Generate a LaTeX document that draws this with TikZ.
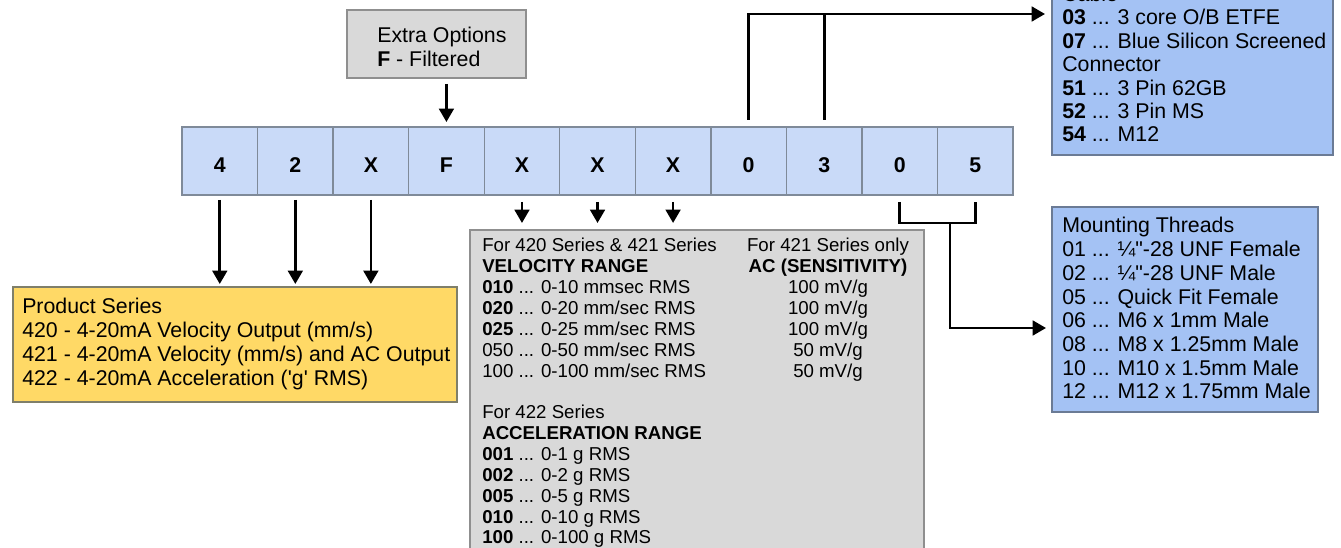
\documentclass[tikz,border=0pt]{standalone}
\usepackage{fontspec}
\setmainfont{Liberation Sans}[Ligatures=TeXOff]
\usetikzlibrary{arrows.meta}
\newcommand{\mydots}{...}
\definecolor{codefill}{HTML}{C9DAF8}
\definecolor{codeline}{HTML}{7F8A99}
\definecolor{bluefill}{HTML}{A4C2F4}
\definecolor{blueline}{HTML}{6B7B95}
\definecolor{grayfill}{HTML}{D9D9D9}
\definecolor{grayline}{HTML}{8F8F8F}
\definecolor{yellowfill}{HTML}{FFD966}
\definecolor{yellowline}{HTML}{7F7F6A}
\begin{document}
\begin{tikzpicture}[x=0.75pt,y=-0.75pt,
  codebox/.style={draw=codeline, fill=codefill, line width=1pt, minimum width=56.66pt, minimum height=51pt,
    inner sep=0pt, outer sep=0pt, font=\fontsize{16}{19}\selectfont\bfseries, text height=18pt, text depth=0pt},
  panel/.style={draw=#1line, fill=#1fill, line width=1pt, inner sep=0pt, outer sep=0pt},
  bigtxt/.style={anchor=base west, inner sep=0pt, font=\fontsize{16}{19}\selectfont},
  smalltxt/.style={anchor=base west, inner sep=0pt, font=\fontsize{14}{17}\selectfont},
  smallc/.style={anchor=base, inner sep=0pt, font=\fontsize{14}{17}\selectfont},
  conn/.style={line width=2pt},
  arr/.style={conn, -{Triangle[length=10pt,width=11pt]}}
]
\useasboundingbox (0,0) rectangle (1341,548);
\clip (0,0) rectangle (1341,548);

% code boxes
\foreach \t [count=\i] in {4,2,X,F,X,X,X,0,3,0,5}
  \node[codebox] (c\i) at ({182+75.55*(\i-0.5)},161) {\t};

% panels
\node[panel=gray, minimum width=134.25pt, minimum height=51pt] (ext) at (436.5,44) {};
\node[panel=blue, minimum width=210.75pt, minimum height=146.25pt] (cable) at (1192.5,57.5) {};
\node[panel=blue, minimum width=199.5pt, minimum height=153.75pt] (mount) at (1185,309.5) {};
\node[panel=yellow, minimum width=333pt, minimum height=86.25pt] (prod) at (235,344.5) {};
\node[panel=gray, minimum width=340.5pt, minimum height=277.5pt] (range) at (697,415) {};

% extra options text
\node[bigtxt] (ext1) at (377,43) {Extra Options};
\node[bigtxt] (ext2) at (377,67) {\textbf{F} - Filtered};

% cable / connector text
\foreach \t [count=\i] in {{Cable},{\textbf{03} \mydots{} 3 core O/B ETFE},{\textbf{07} \mydots{} Blue Silicon Screened},{Connector},{\textbf{51} \mydots{} 3 Pin 62GB},{\textbf{52} \mydots{} 3 Pin MS},{\textbf{54} \mydots{} M12}}
  \node[bigtxt] (cab\i) at (1062,{1.5+23.4*(\i-1)}) {\t};

% mounting threads text
\foreach \t [count=\i] in {{Mounting Threads},{01 \mydots{} ¼"-28 UNF Female},{02 \mydots{} ¼"-28 UNF Male},{05 \mydots{} Quick Fit Female},{06 \mydots{} M6 x 1mm Male},{08 \mydots{} M8 x 1.25mm Male},{10 \mydots{} M10 x 1.5mm Male},{12 \mydots{} M12 x 1.75mm Male}}
  \node[bigtxt] (mt\i) at (1062,{233+23.7*(\i-1)}) {\t};

% product series text
\foreach \t [count=\i] in {{Product Series},{420 - 4-20mA Velocity Output (mm/s)},{421 - 4-20mA Velocity (mm/s) and AC Output},{422 - 4-20mA Acceleration ('g' RMS)}}
  \node[bigtxt] (ps\i) at (22,{314+23.7*(\i-1)}) {\t};

% range text
\foreach \t [count=\i] in {{For 420 Series \& 421 Series},{\textbf{VELOCITY RANGE}},{\textbf{010} \mydots{} 0-10 mmsec RMS},{\textbf{020} \mydots{} 0-20 mm/sec RMS},{\textbf{025} \mydots{} 0-25 mm/sec RMS},{050 \mydots{} 0-50 mm/sec RMS},{100 \mydots{} 0-100 mm/sec RMS}}
  \node[smalltxt] (vr\i) at (482,{252+20.85*(\i-1)}) {\t};
\foreach \t [count=\i] in {{For 421 Series only},{\textbf{AC (SENSITIVITY)}},{100 mV/g},{100 mV/g},{100 mV/g},{50 mV/g},{50 mV/g}}
  \node[smallc] (ac\i) at (828,{252+20.85*(\i-1)}) {\t};
\foreach \t [count=\i] in {{For 422 Series},{\textbf{ACCELERATION RANGE}},{\textbf{001} \mydots{} 0-1 g RMS},{\textbf{002} \mydots{} 0-2 g RMS},{\textbf{005} \mydots{} 0-5 g RMS},{\textbf{010} \mydots{} 0-10 g RMS},{\textbf{100} \mydots{} 0-100 g RMS}}
  \node[smalltxt] (ar\i) at (482,{252+20.85*(\i+7)}) {\t};

% connectors
\draw[arr, shorten <=4.5pt, shorten >=3.75pt] (c4.north |- ext.south) -- (c4.north);
\foreach \i in {1,2,3}
  \draw[arr, shorten <=3.75pt, shorten >=2.25pt] (c\i.south) -- (c\i.south |- prod.north);
\foreach \i in {5,6,7}
  \draw[arr, shorten <=5.25pt, shorten >=5.25pt] (c\i.south) -- (c\i.south |- range.north);

\coordinate (top) at (0,14);
\draw[arr, shorten <=5.25pt, shorten >=5.25pt] (c8.north) -- (c8.north |- top) -- (cable.west |- top);
\draw[conn, shorten <=5.25pt] (c9.north) -- (c9.north |- top);

\coordinate (br) at (950,223);
\coordinate (mt) at (0,328);
\draw[conn, shorten <=5.25pt, shorten >=5.25pt] (c10.south) -- (c10.south |- br) -- (c11.south |- br) -- (c11.south);
\draw[arr, shorten >=4.5pt] (br) -- (br |- mt) -- (mount.west |- mt);
\end{tikzpicture}
\end{document}
